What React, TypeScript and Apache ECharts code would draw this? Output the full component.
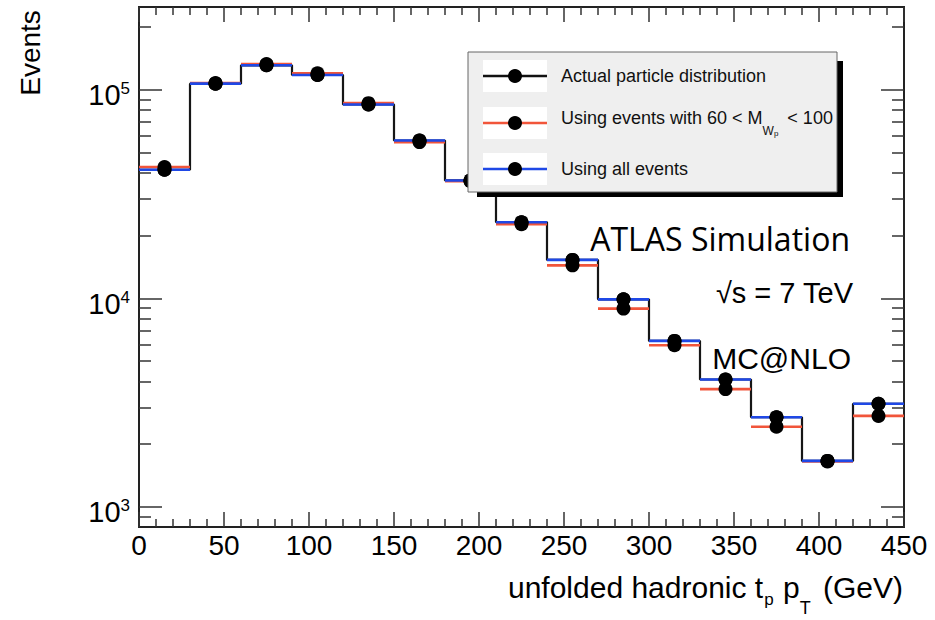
import React, { useEffect, useRef } from "react";
import * as echarts from "echarts";

// Histogram bin edges (GeV)
const binEdges = [0, 30, 60, 90, 120, 150, 180, 210, 240, 270, 300, 330, 360, 390, 420, 450];
// Actual particle distribution (black)
const actualParticle = [41400, 107200, 131300, 118000, 85200, 57200, 36800, 23200, 15300, 9890, 6250, 4080, 2690, 1660, 3120];
// Using events with 60 < M_Wp < 100 (red)
const massWindowEvents = [42700, 108000, 133200, 120200, 86400, 56200, 36500, 22700, 14400, 8930, 5960, 3670, 2420, 1650, 2730];
// Using all events (blue)
const allEvents = [41400, 107200, 131300, 118000, 85200, 57200, 36800, 23200, 15300, 9890, 6250, 4080, 2690, 1660, 3120];

const xTickLabels = [0, 50, 100, 150, 200, 250, 300, 350, 400, 450];
const yMajorTicks = [1000, 10000, 100000];
const yMinorTicks = [900, 2000, 3000, 4000, 5000, 6000, 7000, 8000, 9000, 20000, 30000, 40000, 50000, 60000, 70000, 80000, 90000, 200000];

const legendLabels = ["Actual particle distribution", "Using events with 60 < M", "Using all events"];

const RED = "#f1553a";
const BLUE = "#1f48e6";
const FONT = "Liberation Sans";

function histSegments(values: number[]) {
  return values.map((v, i) => [binEdges[i], binEdges[i + 1], v]);
}
function binCenters(values: number[]) {
  return values.map((v, i) => [(binEdges[i] + binEdges[i + 1]) / 2, v]);
}
function stepData(values: number[]) {
  return binEdges.map((e, i) => [e, values[Math.min(i, values.length - 1)]]);
}

function segmentSeries(name: string, values: number[], color: string, z: number) {
  return {
    name,
    type: "custom",
    z,
    data: histSegments(values),
    encode: { x: [0, 1], y: 2 },
    renderItem: (_params: any, api: any) => {
      const p0 = api.coord([api.value(0), api.value(2)]);
      const p1 = api.coord([api.value(1), api.value(2)]);
      return {
        type: "line",
        shape: { x1: p0[0], y1: p0[1], x2: p1[0], y2: p1[1] },
        style: { stroke: color, lineWidth: 2.6 },
      };
    },
  };
}

function dotSeries(name: string, values: number[]) {
  return {
    name,
    type: "scatter",
    z: 6,
    symbol: "circle",
    symbolSize: 14,
    itemStyle: { color: "#000", opacity: 1 },
    data: binCenters(values),
  };
}

const tickStyle = { color: "#333", width: 1.5 };

function yAxisBase(position: string) {
  return {
    type: "log",
    logBase: 10,
    min: 800,
    max: 250000,
    position,
    splitLine: { show: false },
    axisLine: { show: true, lineStyle: { color: "#222", width: 2 } },
  };
}

export default function App() {
  const ref = useRef<HTMLDivElement>(null);
  useEffect(() => {
    if (!ref.current) return;
    const chart = echarts.init(ref.current, null, { renderer: "svg" });

    const yLabelFormatter = (v: number) => `{b|10}{s|${Math.round(Math.log10(v))}}`;

    const legendY = [76, 123, 169];
    const legendTextY = [76, 117.5, 168.5];
    const legendColors = ["#111", RED, BLUE];

    const legendGraphics: any[] = [
      { type: "rect", shape: { x: 477, y: 61, width: 366, height: 136 }, style: { fill: "#000" }, z: 100 },
      { type: "rect", shape: { x: 468, y: 52, width: 369, height: 140 }, style: { fill: "#efefef", stroke: "#666", lineWidth: 1 }, z: 101 },
    ];
    legendY.forEach((y, i) => {
      legendGraphics.push({ type: "rect", shape: { x: 483, y: y - 16, width: 64, height: 32 }, style: { fill: "#fff" }, z: 102 });
      legendGraphics.push({ type: "line", shape: { x1: 483, y1: y, x2: 547, y2: y }, style: { stroke: legendColors[i], lineWidth: 2.5 }, z: 103 });
      legendGraphics.push({ type: "circle", shape: { cx: 515, cy: y, r: 7 }, style: { fill: "#000" }, z: 104 });
    });
    legendGraphics.push({ type: "text", x: 561, y: legendTextY[0], z: 105, style: { text: legendLabels[0], fontFamily: FONT, fontSize: 18, fill: "#111", align: "left", verticalAlign: "middle" } });
    legendGraphics.push({
      type: "text", x: 561, y: legendTextY[1], z: 105,
      style: {
        text: `{n|${legendLabels[1]}}{w|W}{p|p}{n| < 100}`,
        fontFamily: FONT, fontSize: 18, fill: "#111", align: "left", verticalAlign: "middle",
        rich: {
          n: { fontFamily: FONT, fontSize: 18, lineHeight: 20, fill: "#111" },
          w: { fontFamily: FONT, fontSize: 12, lineHeight: 14, padding: [26, 0, 0, 0], fill: "#111" },
          p: { fontFamily: FONT, fontSize: 8, lineHeight: 10, padding: [31, 4, 0, 0], fill: "#111" },
        },
      },
    });
    legendGraphics.push({ type: "text", x: 561, y: legendTextY[2], z: 105, style: { text: legendLabels[2], fontFamily: FONT, fontSize: 18, fill: "#111", align: "left", verticalAlign: "middle" } });

    const option: any = {
      animation: false,
      backgroundColor: "#fff",
      textStyle: { fontFamily: FONT },
      grid: { left: 139, right: 31, top: 7, bottom: 93, containLabel: false },
      xAxis: [
        {
          type: "value", min: 0, max: 450, interval: 50, position: "bottom",
          splitLine: { show: false },
          axisLine: { show: true, lineStyle: { color: "#222", width: 2 } },
          axisTick: { show: true, inside: true, length: 15, lineStyle: tickStyle },
          minorTick: { show: true, splitNumber: 5, length: 8, lineStyle: tickStyle },
          axisLabel: {
            show: true, color: "#000", fontSize: 28, fontFamily: FONT, margin: 4,
            showMinLabel: true, showMaxLabel: true,
            customValues: xTickLabels,
          },
        },
        {
          type: "value", min: 0, max: 450, interval: 50, position: "top",
          splitLine: { show: false },
          axisLine: { show: true, lineStyle: { color: "#222", width: 2 } },
          axisTick: { show: true, inside: true, length: 15, lineStyle: tickStyle },
          minorTick: { show: true, splitNumber: 5, length: 8, lineStyle: tickStyle },
          axisLabel: { show: false },
        },
      ],
      yAxis: [
        {
          ...yAxisBase("left"),
          axisTick: { show: true, inside: true, length: 23, lineStyle: tickStyle, customValues: yMajorTicks },
          axisLabel: {
            show: true, margin: 9, color: "#000", customValues: yMajorTicks,
            formatter: yLabelFormatter,
            rich: {
              b: { fontFamily: FONT, fontSize: 29, lineHeight: 29, padding: [11, 0, 0, 0], color: "#000" },
              s: { fontFamily: FONT, fontSize: 17, lineHeight: 17, padding: [0, 0, 2, 0], color: "#000" },
            },
          },
        },
        {
          ...yAxisBase("left"),
          axisTick: { show: true, inside: true, length: 12, lineStyle: tickStyle, customValues: yMinorTicks },
          axisLabel: { show: false },
        },
        {
          ...yAxisBase("right"),
          axisTick: { show: true, inside: true, length: 23, lineStyle: tickStyle, customValues: yMajorTicks },
          axisLabel: { show: false },
        },
        {
          ...yAxisBase("right"),
          axisTick: { show: true, inside: true, length: 12, lineStyle: tickStyle, customValues: yMinorTicks },
          axisLabel: { show: false },
        },
      ],
      series: [
        {
          name: "Actual particle distribution",
          type: "line",
          step: "end",
          z: 2,
          symbol: "none",
          lineStyle: { color: "#161616", width: 2.2 },
          data: stepData(actualParticle),
        },
        segmentSeries("Using events with 60 < M_Wp < 100", massWindowEvents, RED, 3),
        segmentSeries("Using all events", allEvents, BLUE, 4),
        dotSeries("Actual particle distribution (points)", actualParticle),
        dotSeries("Using events with 60 < M_Wp < 100 (points)", massWindowEvents),
        dotSeries("Using all events (points)", allEvents),
      ],
      graphic: [
        ...legendGraphics,
        {
          type: "text", x: 30, y: 53, rotation: Math.PI / 2, z: 110,
          style: { text: "Events", fontFamily: FONT, fontSize: 28, fill: "#000", align: "center", verticalAlign: "middle" },
        },
        {
          type: "text", x: 903, y: 587, z: 110,
          style: {
            text: "{n|unfolded hadronic t}{s|p}{n| p}{t|T}{n| (GeV)}",
            align: "right", verticalAlign: "middle", fontFamily: FONT, fontSize: 30, fill: "#000",
            rich: {
              n: { fontFamily: FONT, fontSize: 30, lineHeight: 30, fill: "#000" },
              s: { fontFamily: FONT, fontSize: 17, lineHeight: 16, padding: [24, 1, 0, 1], fill: "#000" },
              t: { fontFamily: FONT, fontSize: 18, lineHeight: 17, padding: [42, 4, 0, 0], fill: "#000" },
            },
          },
        },
        {
          type: "text", x: 850, y: 238, z: 110,
          style: { text: "ATLAS Simulation", fontFamily: "Open Sans", fontSize: 32, fill: "#000", align: "right", verticalAlign: "middle" },
        },
        {
          type: "text", x: 853, y: 293, z: 110,
          style: { text: "√s = 7 TeV", fontFamily: FONT, fontSize: 29, fill: "#000", align: "right", verticalAlign: "middle" },
        },
        {
          type: "text", x: 851, y: 358, z: 110,
          style: { text: "MC@NLO", fontFamily: FONT, fontSize: 30, fill: "#000", align: "right", verticalAlign: "middle" },
        },
      ],
    };
    chart.setOption(option);
    return () => chart.dispose();
  }, []);
  return <div ref={ref} style={{ position: "absolute", left: 0, top: 0, width: 935, height: 620, background: "#fff" }} />;
}
